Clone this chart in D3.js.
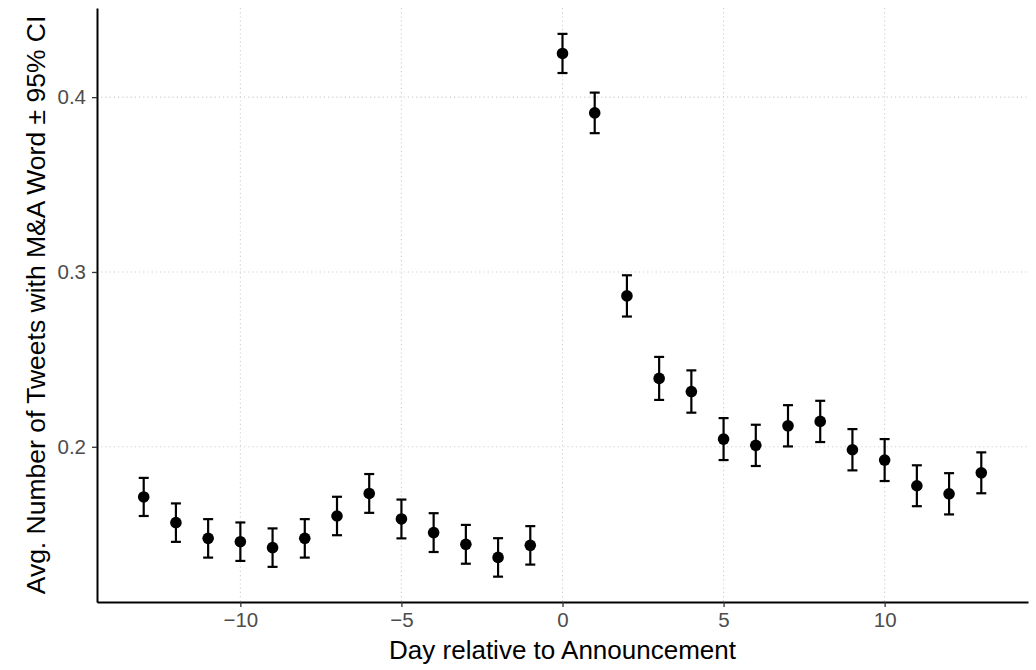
<!DOCTYPE html>
<html>
<head>
<meta charset="utf-8">
<script src="https://cdn.jsdelivr.net/npm/d3@7"></script>
<style>
  body { margin: 0; background: #fff; }
  svg { display: block; font-family: "Liberation Sans", Arial, Helvetica, sans-serif; }
</style>
</head>
<body>
<div id="chart"></div>
<script>
// Days relative to the announcement
const days = [-13, -12, -11, -10, -9, -8, -7, -6, -5, -4, -3, -2, -1,
  0, 1, 2, 3, 4, 5, 6, 7, 8, 9, 10, 11, 12, 13];

// Mean share of tweets with an M&A word
const means = [0.1713, 0.1566, 0.1476, 0.1457, 0.1423, 0.1476, 0.1604, 0.1733, 0.1587, 0.1509, 0.1442, 0.1367, 0.1436,
  0.4250, 0.3910, 0.2863, 0.2391, 0.2316, 0.2044, 0.2008, 0.2120, 0.2145, 0.1983, 0.1924, 0.1777, 0.1731, 0.1851];

// Half width of the 95% CI
const ciHalf = [0.0109, 0.0110, 0.0110, 0.0110, 0.0110, 0.0110, 0.0110, 0.0111, 0.0111, 0.0111, 0.0111, 0.0110, 0.0110,
  0.0112, 0.0116, 0.0118, 0.0123, 0.0121, 0.0120, 0.0118, 0.0118, 0.0118, 0.0118, 0.0120, 0.0117, 0.0118, 0.0117];

const xTicks = [-10, -5, 0, 5, 10];
const yTicks = [0.2, 0.3, 0.4];

const width = 1036, height = 670;
const margin = { top: 8, right: 8, bottom: 68, left: 97 };

const svg = d3.select("#chart").append("svg")
  .attr("width", width)
  .attr("height", height);

const x = d3.scaleLinear()
  .domain([-14.45, 14.45])
  .range([margin.left, width - margin.right]);

const y = d3.scaleLinear()
  .domain([0.1112, 0.4510])
  .range([height - margin.bottom, margin.top]);

const data = days.map((d, i) => ({ day: d, mean: means[i], lo: means[i] - ciHalf[i], hi: means[i] + ciHalf[i] }));

// Dotted major grid
const grid = svg.append("g").attr("class", "grid");
grid.selectAll("line.gx")
  .data(xTicks)
  .join("line")
  .attr("x1", d => x(d)).attr("x2", d => x(d))
  .attr("y1", margin.top).attr("y2", height - margin.bottom)
  .style("stroke", "#cfcfcf")
  .style("stroke-width", 1.1)
  .style("stroke-dasharray", "1.2,3");
grid.selectAll("line.gy")
  .data(yTicks)
  .join("line")
  .attr("x1", margin.left).attr("x2", width - margin.right)
  .attr("y1", d => y(d)).attr("y2", d => y(d))
  .style("stroke", "#cfcfcf")
  .style("stroke-width", 1.1)
  .style("stroke-dasharray", "1.2,3");

// Axes
const xAxis = svg.append("g")
  .attr("transform", `translate(0,${height - margin.bottom})`)
  .call(d3.axisBottom(x).tickValues(xTicks).tickSize(5).tickPadding(5).tickSizeOuter(0));

const yAxis = svg.append("g")
  .attr("transform", `translate(${margin.left},0)`)
  .call(d3.axisLeft(y).tickValues(yTicks).tickFormat(d3.format(".1f")).tickSize(5).tickPadding(6).tickSizeOuter(0));

[xAxis, yAxis].forEach(a => {
  a.select(".domain").style("stroke", "#000").style("stroke-width", 2);
  a.selectAll(".tick line").style("stroke", "#333").style("stroke-width", 1.3);
  a.selectAll(".tick text")
    .style("font-size", "20.5px")
    .style("fill", "#4d4d4d")
    .style("font-family", "'Liberation Sans', Arial, sans-serif");
});

// Error bars
const capHalf = 0.155;
const bars = svg.append("g").attr("class", "errorbars")
  .style("stroke", "#000")
  .style("stroke-width", 2.2);

bars.selectAll("line.v")
  .data(data)
  .join("line")
  .attr("class", "v")
  .attr("x1", d => x(d.day)).attr("x2", d => x(d.day))
  .attr("y1", d => y(d.lo)).attr("y2", d => y(d.hi));

bars.selectAll("line.top")
  .data(data)
  .join("line")
  .attr("class", "top")
  .attr("x1", d => x(d.day - capHalf)).attr("x2", d => x(d.day + capHalf))
  .attr("y1", d => y(d.hi)).attr("y2", d => y(d.hi));

bars.selectAll("line.bot")
  .data(data)
  .join("line")
  .attr("class", "bot")
  .attr("x1", d => x(d.day - capHalf)).attr("x2", d => x(d.day + capHalf))
  .attr("y1", d => y(d.lo)).attr("y2", d => y(d.lo));

// Points
svg.append("g").selectAll("circle")
  .data(data)
  .join("circle")
  .attr("cx", d => x(d.day))
  .attr("cy", d => y(d.mean))
  .attr("r", 5.8)
  .style("fill", "#000");

// Axis titles
svg.append("text")
  .attr("x", (margin.left + width - margin.right) / 2)
  .attr("y", 659)
  .attr("text-anchor", "middle")
  .style("font-size", "26px")
  .style("fill", "#000")
  .text("Day relative to Announcement");

svg.append("text")
  .attr("transform", `translate(45,${(margin.top + height - margin.bottom) / 2}) rotate(-90)`)
  .attr("text-anchor", "middle")
  .style("font-size", "26.5px")
  .style("fill", "#000")
  .text("Avg. Number of Tweets with M&A Word ± 95% CI");
</script>
</body>
</html>
